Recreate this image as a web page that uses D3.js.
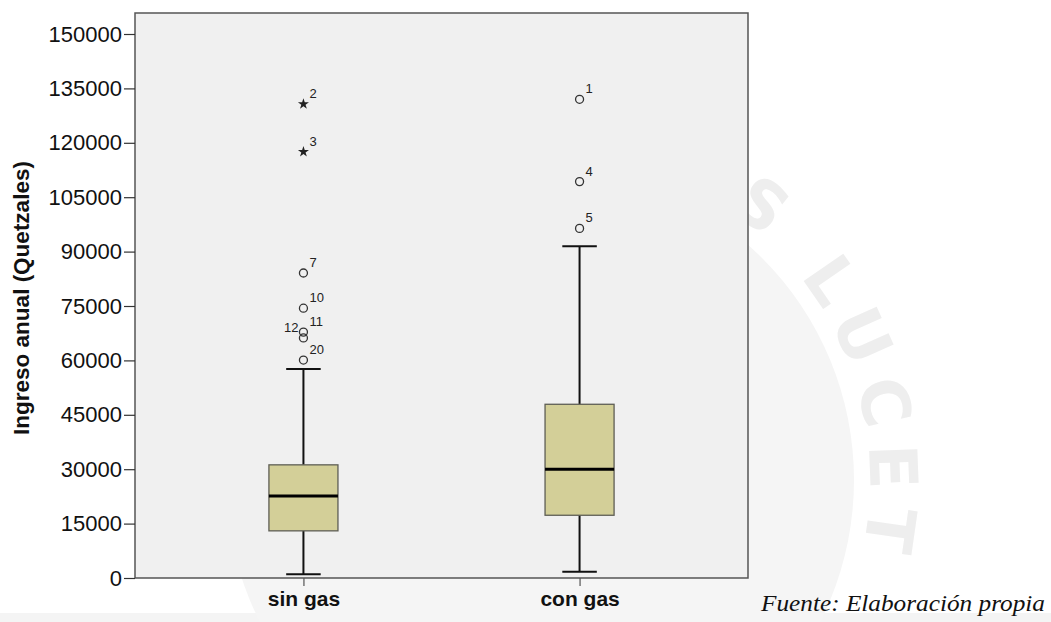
<!DOCTYPE html>
<html>
<head>
<meta charset="utf-8">
<script src="https://cdn.jsdelivr.net/npm/d3@7"></script>
<style>
  html, body { margin: 0; padding: 0; background: #ffffff; }
  svg { display: block; }
</style>
</head>
<body>
<svg id="chart" width="1051" height="622"></svg>
<script>
// Annual income by household group (box plot summary)
const categories = ["sin gas", "con gas"];
const whiskerLow  = [1000, 1700];
const q1          = [13000, 17300];
const median      = [22600, 30000];
const q3          = [31200, 47900];
const whiskerHigh = [57600, 91500];

// Outlying cases per group: case id, value, marker kind, label side
const outliersSinGas = [
  { id: "2",  value: 130700, kind: "extreme", side: "right" },
  { id: "3",  value: 117500, kind: "extreme", side: "right" },
  { id: "7",  value: 84100,  kind: "outlier", side: "right" },
  { id: "10", value: 74400,  kind: "outlier", side: "right" },
  { id: "11", value: 67800,  kind: "outlier", side: "right" },
  { id: "12", value: 66200,  kind: "outlier", side: "left" },
  { id: "20", value: 60100,  kind: "outlier", side: "right" }
];
const outliersConGas = [
  { id: "1", value: 132000, kind: "outlier", side: "right" },
  { id: "4", value: 109300, kind: "outlier", side: "right" },
  { id: "5", value: 96400,  kind: "outlier", side: "right" }
];

const yTicks = [0, 15000, 30000, 45000, 60000, 75000, 90000, 105000, 120000, 135000, 150000];
const yTitle = "Ingreso anual (Quetzales)";
const sourceNote = "Fuente: Elaboración propia";
const sealText = "IS LUCET";

const svg = d3.select("#chart");

// Faint seal in the page background
const seal = svg.append("g");
seal.append("rect").attr("x", 0).attr("y", 613).attr("width", 1051).attr("height", 9).attr("fill", "#f4f4f4");
seal.append("circle").attr("cx", 540).attr("cy", 480).attr("r", 314).attr("fill", "#f5f5f5");
const a0 = -62 * Math.PI / 180, a1 = 12 * Math.PI / 180, sealR = 330;
const arc = d3.path();
arc.arc(540, 480, sealR, a0, a1, false);
seal.append("path").attr("id", "sealArc").attr("d", arc.toString()).attr("fill", "none");
seal.append("text")
  .attr("font-family", "'DejaVu Sans', sans-serif")
  .attr("font-weight", "bold")
  .attr("font-size", 66)
  .attr("fill", "#eeeeee")
  .append("textPath")
  .attr("href", "#sealArc")
  .attr("textLength", sealR * (a1 - a0))
  .attr("lengthAdjust", "spacing")
  .text(sealText);

// Plot frame
const plotLeft = 135, plotRight = 748, plotTop = 13, plotBottom = 578;

const y = d3.scaleLinear().domain([0, 150000]).range([plotBottom, 34]);
const x = d3.scalePoint().domain(categories).range([plotLeft, plotRight]).padding(0.61);
const boxW = x.step() * 0.25;
const capW = boxW / 2;

svg.append("rect")
  .attr("x", plotLeft).attr("y", plotTop)
  .attr("width", plotRight - plotLeft).attr("height", plotBottom - plotTop)
  .attr("fill", "#f0f0f0")
  .attr("stroke", "#555").attr("stroke-width", 1.5);

// Y axis
const yAxis = svg.append("g")
  .attr("transform", `translate(${plotLeft},0)`)
  .call(d3.axisLeft(y).tickValues(yTicks).tickSize(11).tickSizeOuter(0).tickPadding(2).tickFormat(d3.format("d")));
yAxis.select(".domain").remove();
yAxis.selectAll(".tick line").attr("stroke", "#333").attr("stroke-width", 1.2);
yAxis.selectAll(".tick text")
  .attr("font-family", "Arial, 'Liberation Sans', sans-serif")
  .attr("font-size", 22).attr("fill", "#111");

// X axis
const xAxis = svg.append("g")
  .attr("transform", `translate(0,${plotBottom})`)
  .call(d3.axisBottom(x).tickSize(8).tickSizeOuter(0).tickPadding(5));
xAxis.select(".domain").remove();
xAxis.selectAll(".tick line").attr("stroke", "#555").attr("stroke-width", 1.2);
xAxis.selectAll(".tick text")
  .attr("font-family", "Arial, 'Liberation Sans', sans-serif")
  .attr("font-weight", "bold")
  .attr("font-size", 21).attr("fill", "#111");

// Y title
svg.append("text")
  .attr("transform", `translate(29,${(158 + 438) / 2}) rotate(-90)`)
  .attr("text-anchor", "middle")
  .attr("font-family", "Arial, 'Liberation Sans', sans-serif")
  .attr("font-weight", "bold")
  .attr("font-size", 22.5)
  .attr("fill", "#111")
  .text(yTitle);

// Boxes
const boxes = categories.map((c, i) => ({
  c, lo: whiskerLow[i], q1: q1[i], med: median[i], q3: q3[i], hi: whiskerHigh[i]
}));

const g = svg.append("g");
boxes.forEach(b => {
  const cx = x(b.c);
  // whiskers
  g.append("line").attr("x1", cx).attr("x2", cx).attr("y1", y(b.q3)).attr("y2", y(b.hi))
    .attr("stroke", "#111").attr("stroke-width", 2);
  g.append("line").attr("x1", cx).attr("x2", cx).attr("y1", y(b.q1)).attr("y2", y(b.lo))
    .attr("stroke", "#111").attr("stroke-width", 2);
  g.append("line").attr("x1", cx - capW / 2).attr("x2", cx + capW / 2).attr("y1", y(b.hi)).attr("y2", y(b.hi))
    .attr("stroke", "#111").attr("stroke-width", 2);
  g.append("line").attr("x1", cx - capW / 2).attr("x2", cx + capW / 2).attr("y1", y(b.lo)).attr("y2", y(b.lo))
    .attr("stroke", "#111").attr("stroke-width", 2);
  // box
  g.append("rect")
    .attr("x", cx - boxW / 2).attr("y", y(b.q3))
    .attr("width", boxW).attr("height", y(b.q1) - y(b.q3))
    .attr("fill", "#d3cf98").attr("stroke", "#5e5e55").attr("stroke-width", 1.3);
  // median
  g.append("line").attr("x1", cx - boxW / 2).attr("x2", cx + boxW / 2)
    .attr("y1", y(b.med)).attr("y2", y(b.med))
    .attr("stroke", "#000").attr("stroke-width", 3);
});

// Outliers and extremes
const allOut = [
  ...outliersSinGas.map(d => ({ ...d, c: categories[0] })),
  ...outliersConGas.map(d => ({ ...d, c: categories[1] }))
];
const star = d3.symbol().type(d3.symbolStar).size(38);

allOut.forEach(d => {
  const cx = x(d.c), cy = y(d.value);
  if (d.kind === "extreme") {
    g.append("path").attr("d", star).attr("transform", `translate(${cx},${cy})`)
      .attr("fill", "#222");
  } else {
    g.append("circle").attr("cx", cx).attr("cy", cy).attr("r", 4)
      .attr("fill", "none").attr("stroke", "#333").attr("stroke-width", 1.3);
  }
  g.append("text")
    .attr("x", d.side === "right" ? cx + 6 : cx - 5)
    .attr("y", cy - 6)
    .attr("text-anchor", d.side === "right" ? "start" : "end")
    .attr("font-family", "Arial, 'Liberation Sans', sans-serif")
    .attr("font-size", 13)
    .attr("fill", "#222")
    .text(d.id);
});

// Source note
svg.append("text")
  .attr("x", 1045).attr("y", 611)
  .attr("text-anchor", "end")
  .attr("font-family", "'Liberation Serif', 'DejaVu Serif', serif")
  .attr("font-style", "italic")
  .attr("font-size", 24)
  .attr("textLength", 284)
  .attr("lengthAdjust", "spacingAndGlyphs")
  .attr("fill", "#111")
  .text(sourceNote);
</script>
</body>
</html>
